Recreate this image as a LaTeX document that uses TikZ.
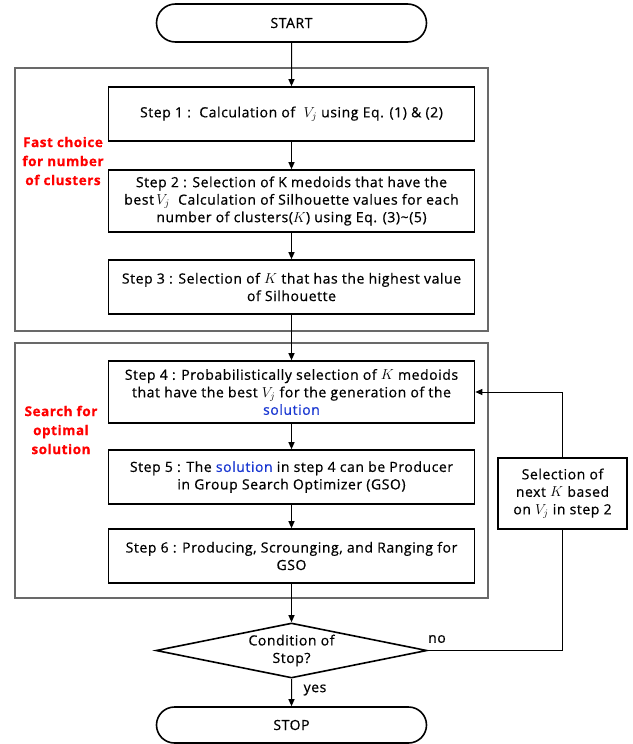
\documentclass[tikz,border=0pt]{standalone}
\usepackage{fontspec}
\setmainfont{Open Sans}[LetterSpace=4,FakeBold=0.6]
\usetikzlibrary{arrows.meta,shapes.misc,shapes.geometric}
\definecolor{solblue}{RGB}{25,55,210}
\definecolor{grp}{RGB}{105,105,105}
\tikzset{
  stepbox/.style={draw=black, line width=1.6pt, rectangle, minimum width=366pt, inner sep=0pt, align=center, fill=white},
  groupbox/.style={draw=grp, line width=1.8pt, rectangle, inner sep=0pt},
  term/.style={draw=black, line width=1.6pt, rounded rectangle, minimum width=270pt, inner sep=0pt, fill=white},
  cond/.style={draw=black, line width=1.6pt, diamond, aspect=5, inner sep=0pt, minimum width=271pt, minimum height=55pt, align=center, fill=white},
  redlab/.style={text=red, font=\fontsize{13.5}{19}\selectfont\bfseries, align=center, inner sep=0pt},
  arr/.style={line width=1pt, -{Triangle[length=7pt,width=6pt]}},
  conn/.style={line width=1pt},
  lbl/.style={inner sep=0pt}
}
\begin{document}
\begin{tikzpicture}[x=1pt,y=-1pt,font=\fontsize{14}{17.5}\selectfont]
\useasboundingbox (0,0) rectangle (632,744);
% groups
\node[groupbox, minimum width=473pt, minimum height=263pt] (g1) at (251.5,199.5) {};
\node[groupbox, minimum width=473pt, minimum height=255pt] (g2) at (251.5,470.5) {};
% terminals
\node[term, minimum height=38pt] (start) at (291.5,23) {START};
\node[term, minimum height=36pt] (stop) at (291.5,725) {STOP};
% steps
\node[stepbox, minimum height=54pt] (s1) at (291.5,114) {Step 1 :\ \ Calculation of\ \ $V_j$ using Eq. (1) \& (2)};
\node[stepbox, minimum height=62pt] (s2) at (291.5,201) {Step 2 : Selection of K medoids that have the\\best\,$V_j$\ \ Calculation of Silhouette values for each\\number of clusters($K$) using Eq. (3)\textasciitilde(5)};
\node[stepbox, minimum height=54pt] (s3) at (291.5,287) {Step 3 : Selection of $K$ that has the highest value\\of Silhouette};
\node[stepbox, minimum height=62pt] (s4) at (291.5,392) {Step 4 : Probabilistically selection of $K$ medoids\\that have the best $V_j$ for the generation of the\\\textcolor{solblue}{solution}};
\node[stepbox, minimum height=54pt] (s5) at (291.5,477) {Step 5 : The \textcolor{solblue}{solution} in step 4 can be Producer\\in Group Search Optimizer (GSO)};
\node[stepbox, minimum height=54pt] (s6) at (291.5,556) {Step 6 : Producing, Scrounging, and Ranging for\\GSO};
\node[cond] (c) at (291.5,650.5) {Condition of\\Stop?};
\node[stepbox, minimum width=129pt, minimum height=71pt] (side) at (562.5,493.5) {Selection of\\next $K$ based\\on $V_j$ in step 2};
% red labels
\node[redlab] (l1) at (63,161) {Fast choice\\for number\\of clusters};
\node[redlab] (l2) at (61,430) {Search for\\optimal\\solution};
% connectors
\draw[arr] (start) -- (s1);
\draw[arr] (s1) -- (s2);
\draw[arr] (s2) -- (s3);
\draw[arr] (s3) -- (s4);
\draw[arr] (s4) -- (s5);
\draw[arr] (s5) -- (s6);
\draw[arr] (s6) -- (c);
\draw[arr] (c) -- (stop);
\draw[conn] (c.east) -| (side.south);
\draw[arr] (side.north) |- (s4.east);
\node[lbl] (no) at (437,639) {no};
\node[lbl] (yes) at (315,690) {yes};
\end{tikzpicture}
\end{document}
